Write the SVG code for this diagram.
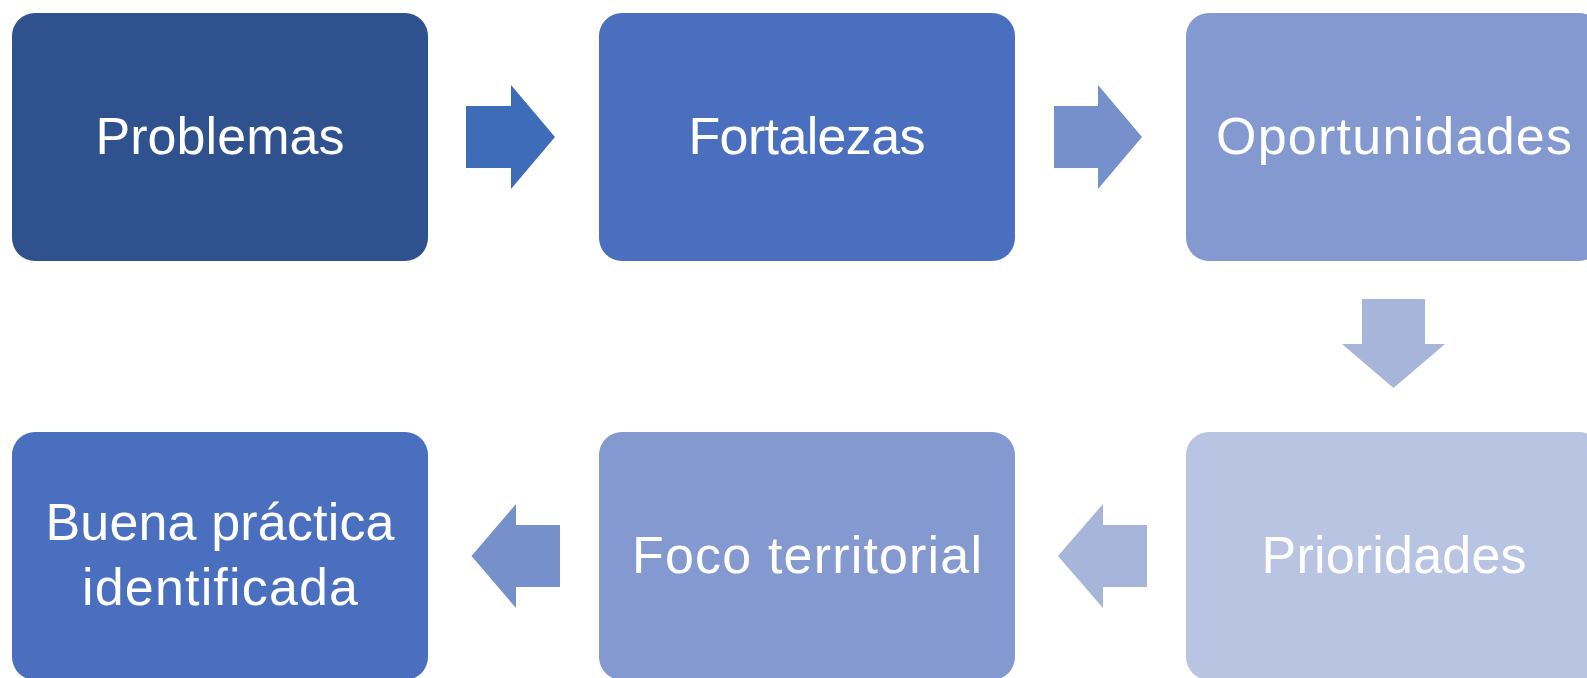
<svg xmlns="http://www.w3.org/2000/svg" width="1587" height="678" viewBox="0 0 1587 678">
<style>
.lbl{font-family:"Liberation Sans",Arial,sans-serif;font-size:52px;fill:#ffffff;text-anchor:middle}
</style>
<rect width="1587" height="678" fill="#ffffff"/>
<g id="connectors">
<polygon points="466,106 511,106 511,85 555,137 511,189 511,168 466,168" fill="#3F6CB9"/>
<polygon points="1054,106 1098,106 1098,85 1142,137 1098,189 1098,168 1054,168" fill="#7590CB"/>
<polygon points="1362,299 1425,299 1425,344 1445,344 1393.5,388 1342,344 1362,344" fill="#A8B5DA"/>
<polygon points="1147,525 1103,525 1103,504 1058,556 1103,608 1103,587 1147,587" fill="#A8B5DA"/>
<polygon points="560,525 516,525 516,504 471.5,556 516,608 516,587 560,587" fill="#7590CB"/>
</g>
<g id="node-problemas">
<rect x="12" y="13" width="416" height="248" rx="23" fill="#2F528F"/>
<text class="lbl" x="220" y="154" textLength="249" lengthAdjust="spacing">Problemas</text>
</g>
<g id="node-fortalezas">
<rect x="599" y="13" width="416" height="248" rx="23" fill="#4A6FBE"/>
<text class="lbl" x="807" y="154" textLength="237" lengthAdjust="spacing">Fortalezas</text>
</g>
<g id="node-oportunidades">
<rect x="1186" y="13" width="416" height="248" rx="23" fill="#8399CF"/>
<text class="lbl" x="1394" y="154" textLength="356" lengthAdjust="spacing">Oportunidades</text>
</g>
<g id="node-prioridades">
<rect x="1186" y="432" width="416" height="248" rx="23" fill="#B8C4E2"/>
<text class="lbl" x="1394" y="573" textLength="265" lengthAdjust="spacing">Prioridades</text>
</g>
<g id="node-foco">
<rect x="599" y="432" width="416" height="248" rx="23" fill="#8399CF"/>
<text class="lbl" x="807" y="573" textLength="350" lengthAdjust="spacing">Foco territorial</text>
</g>
<g id="node-buena">
<rect x="12" y="432" width="416" height="248" rx="23" fill="#4A6FBE"/>
<text class="lbl" x="220" y="540" textLength="349" lengthAdjust="spacing">Buena práctica</text>
<text class="lbl" x="220" y="605" textLength="276" lengthAdjust="spacing">identificada</text>
</g>
</svg>
